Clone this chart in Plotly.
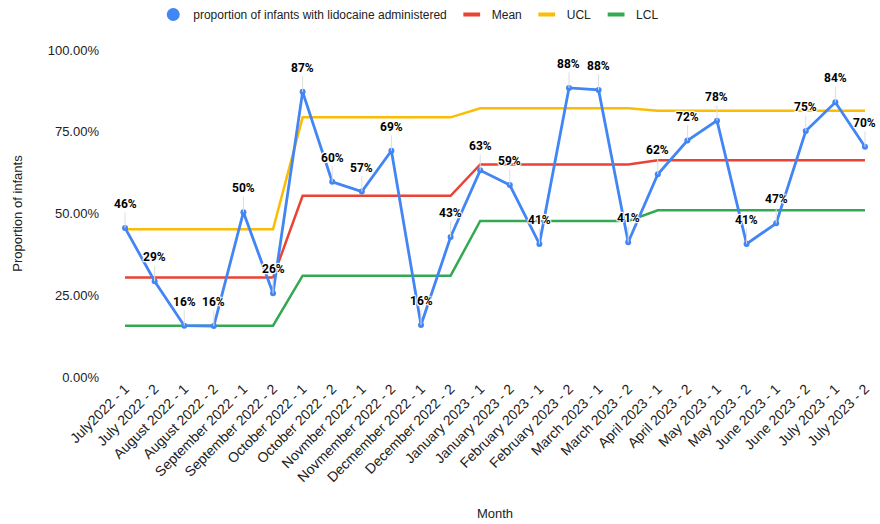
import plotly.graph_objects as go

months = ["July2022 - 1", "July 2022 - 2", "August 2022 - 1", "August 2022 - 2",
          "September 2022 - 1", "September 2022 - 2", "October 2022 - 1", "October 2022 - 2",
          "Novmber 2022 - 1", "Novmember 2022 - 2", "Decmember 2022 - 1", "December 2022 - 2",
          "January 2023 - 1", "January 2023 - 2", "February 2023 - 1", "February 2023 - 2",
          "March 2023 - 1", "March 2023 - 2", "April 2023 - 1", "April 2023 - 2",
          "May 2023 - 1", "May 2023 - 2", "June 2023 - 1", "June 2023 - 2",
          "July 2023 - 1", "July 2023 - 2"]

proportion = [0.456, 0.293, 0.157, 0.156, 0.504, 0.256, 0.872, 0.597, 0.567, 0.692,
              0.159, 0.428, 0.632, 0.587, 0.407, 0.884, 0.878, 0.412, 0.620, 0.723,
              0.784, 0.407, 0.470, 0.752, 0.840, 0.704]

mean_vals = [0.304, 0.304, 0.304, 0.304, 0.304, 0.304,
             0.554, 0.554, 0.554, 0.554, 0.554, 0.554,
             0.650, 0.650, 0.650, 0.650, 0.650, 0.650,
             0.663, 0.663, 0.663, 0.663, 0.663, 0.663, 0.663, 0.663]

ucl_vals = [0.452, 0.452, 0.452, 0.452, 0.452, 0.452,
            0.794, 0.794, 0.794, 0.794, 0.794, 0.794,
            0.822, 0.822, 0.822, 0.822, 0.822, 0.822,
            0.814, 0.814, 0.814, 0.814, 0.814, 0.814, 0.814, 0.814]

lcl_vals = [0.157, 0.157, 0.157, 0.157, 0.157, 0.157,
            0.310, 0.310, 0.310, 0.310, 0.310, 0.310,
            0.477, 0.477, 0.477, 0.477, 0.477, 0.477,
            0.510, 0.510, 0.510, 0.510, 0.510, 0.510, 0.510, 0.510]

BLUE = "#4285F4"
RED = "#EA4335"
YELLOW = "#FBBC04"
GREEN = "#34A853"
FONT = "Liberation Sans, Arial, sans-serif"

fig = go.Figure()

# control lines (drawn first, under the data line)
for name, vals, col in [("Mean", mean_vals, RED), ("UCL", ucl_vals, YELLOW),
                        ("LCL", lcl_vals, GREEN)]:
    fig.add_trace(go.Scatter(x=months, y=vals, mode="lines", name=name,
                             line=dict(color=col, width=2.5), showlegend=False,
                             hoverinfo="skip"))

fig.add_trace(go.Scatter(x=months, y=proportion, mode="lines+markers",
                         name="proportion of infants with lidocaine administered",
                         line=dict(color=BLUE, width=2.8),
                         marker=dict(color=BLUE, size=6), showlegend=False))

# legend entries (Google-Sheets-like symbols)
fig.add_trace(go.Scatter(x=[None], y=[None], mode="markers",
                         name="proportion of infants with lidocaine administered",
                         marker=dict(color=BLUE, size=13, symbol="circle"), legendrank=1))
for name, col, rank in [("Mean", RED, 2), ("UCL", YELLOW, 3), ("LCL", GREEN, 4)]:
    fig.add_trace(go.Scatter(x=[None], y=[None], mode="markers", name=name,
                             marker=dict(color=col, size=12, symbol="line-ew-open",
                                         line=dict(color=col, width=4)),
                             legendrank=rank))

# data labels with leader lines
halo = ("1px 1px 1px #fff, -1px -1px 1px #fff, 1px -1px 1px #fff, -1px 1px 1px #fff, "
        "0px 1px 1px #fff, 0px -1px 1px #fff")
for m, v in zip(months, proportion):
    fig.add_annotation(x=m, y=v, text=f"{v:.0%}", showarrow=True, ax=0, ay=-24,
                       arrowhead=0, arrowwidth=1, arrowcolor="#dddddd", standoff=0,
                       font=dict(family="Roboto, sans-serif", size=12, color="#000000",
                                 weight="bold", shadow=halo))

fig.update_layout(
    width=880, height=524,
    margin=dict(l=120, r=10, t=50, b=147),
    paper_bgcolor="white", plot_bgcolor="white",
    font=dict(family=FONT, color="#222222", size=12),
    legend=dict(orientation="h", x=0.385, xanchor="center", y=1.0, yref="container",
                yanchor="top", font=dict(family=FONT, size=12, color="#222222"),
                itemwidth=30, traceorder="normal"),
    showlegend=True,
)
fig.update_xaxes(type="category", range=[-0.17, 25.17], tickangle=-45, automargin=False,
                 tickfont=dict(size=14, color="#222222"), showgrid=False,
                 showline=False, zeroline=False, ticks="",
                 title=dict(text="Month", font=dict(size=13, color="#222222"), standoff=24))
fig.update_yaxes(range=[0, 1], tickformat=".2%", tickvals=[0, 0.25, 0.5, 0.75, 1.0],
                 automargin=False,
                 tickfont=dict(size=13, color="#222222"), showgrid=False,
                 showline=False, zeroline=False, ticks="", ticklabelstandoff=20,
                 title=dict(text="Proportion of infants", font=dict(size=13, color="#222222"),
                            standoff=22))

fig.write_html("out.html")
